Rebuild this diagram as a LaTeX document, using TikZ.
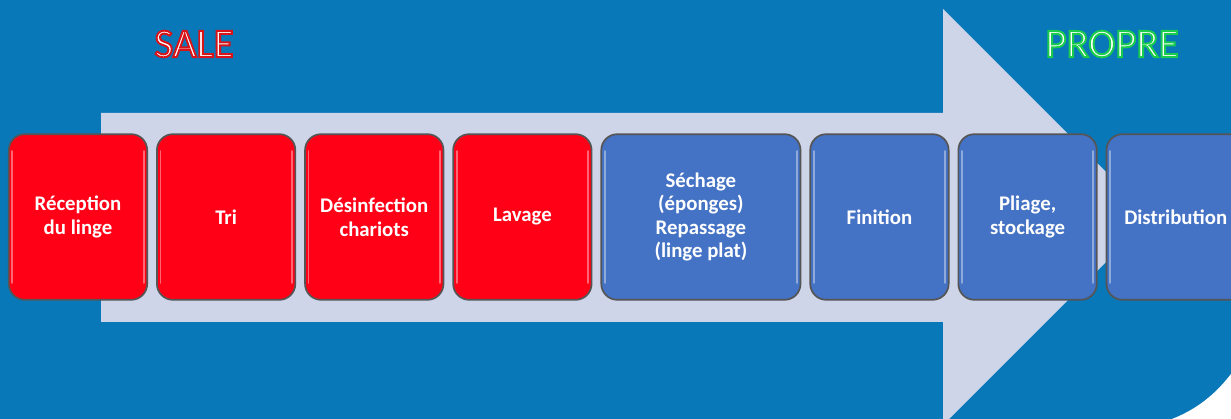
\documentclass[tikz,border=0pt]{standalone}
\usepackage{fontspec}
\setmainfont{Carlito}
\usepackage{xcolor}
\usetikzlibrary{positioning}
\definecolor{bgblue}{RGB}{8,120,185}
\definecolor{arrowgray}{RGB}{207,213,232}
\definecolor{salered}{RGB}{255,0,22}
\definecolor{boxblue}{RGB}{68,114,196}
\definecolor{rimgray}{RGB}{85,85,85}
\newcommand{\outlinetext}[2]{\special{pdf:literal direct 2 Tr 1.4 w #1 RG}#2\special{pdf:literal direct 0 Tr}}

\begin{document}
\begin{tikzpicture}[x=0.025cm,y=-0.025cm]
    \tikzstyle{stage}=[draw=rimgray,line width=1.2pt,rounded corners=0.4cm,minimum width=3.46cm,minimum height=4.14cm,
        text=white,align=center,inner sep=2pt,font=\fontsize{14.8}{16.8}\selectfont\bfseries,
        path picture={
            \draw[white,opacity=0.4,line width=1.2pt,line cap=round]
                ([xshift=2.5pt,yshift=-12pt]path picture bounding box.north west) -- ([xshift=2.5pt,yshift=12pt]path picture bounding box.south west)
                ([xshift=-2.5pt,yshift=-12pt]path picture bounding box.north east) -- ([xshift=-2.5pt,yshift=12pt]path picture bounding box.south east);
        }]

    \useasboundingbox (0,0) rectangle (1231,419);
    \clip (0,0) rectangle (1231,419);
    \fill[bgblue] (0,0) rectangle (1231,419);

    % big arrow behind the stages
    \fill[arrowgray] (101,113) -- (943,113) -- (943,9) -- (1151,217) -- (943,425) -- (943,322) -- (101,322) -- cycle;
    \fill[white] (1231,374) .. controls (1214,396) and (1195,410) .. (1172,419) -- (1231,419) -- cycle;

    \node[stage,fill=salered] (recep) at (78,217) {Réception\\du linge};
    \node[stage,fill=salered,right=0.2cm of recep] (tri) {Tri};
    \node[stage,fill=salered,right=0.2cm of tri] (desinf) {Désinfection\\chariots};
    \node[stage,fill=salered,right=0.2cm of desinf] (lavage) {Lavage};
    \node[stage,fill=boxblue,minimum width=4.98cm,right=0.2cm of lavage] (sechage) {Séchage\\(éponges)\\Repassage\\(linge plat)};
    \node[stage,fill=boxblue,right=0.2cm of sechage] (finition) {Finition};
    \node[stage,fill=boxblue,right=0.2cm of finition] (pliage) {Pliage,\\stockage};
    \node[stage,fill=boxblue,right=0.2cm of pliage] (distrib) {Distribution};

    \node[text=white,font=\fontsize{29}{30}\selectfont] (sale) at (194,44) {\outlinetext{0.85 0.08 0.1}{SALE}};
    \node[text=white,font=\fontsize{29}{30}\selectfont] (propre) at (1112,44) {\outlinetext{0.1 0.8 0.3}{PROPRE}};

\end{tikzpicture}
\end{document}
